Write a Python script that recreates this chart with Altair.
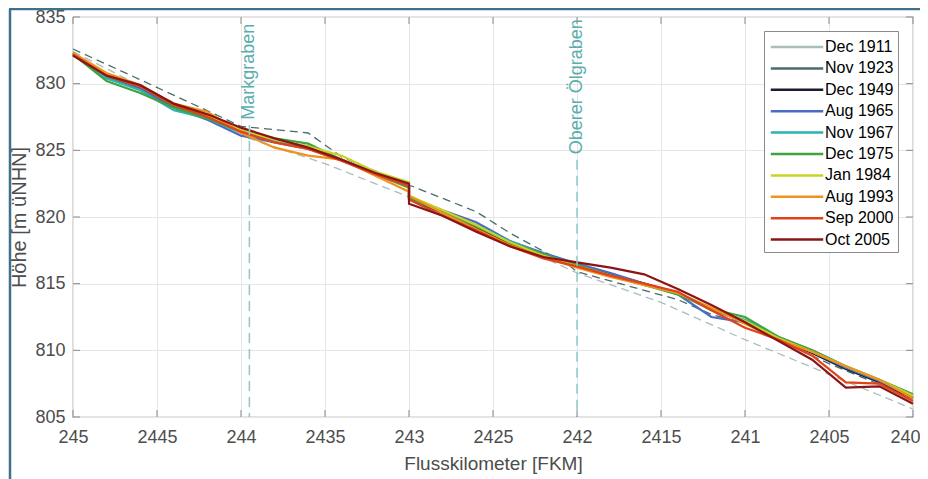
import altair as alt
import pandas as pd

# ---------------- data ----------------
series_names = ["Dec 1911", "Nov 1923", "Dec 1949", "Aug 1965", "Nov 1967",
                "Dec 1975", "Jan 1984", "Aug 1993", "Sep 2000", "Oct 2005"]
series_colors = ["#a9bdbd", "#4b6c6c", "#1c1c30", "#4a6cc4", "#2cb2b2",
                 "#3fa33f", "#c8d423", "#f0921c", "#e0421c", "#8c1414"]

# dashed historic profiles (own stations)
km_1911 = [245.0, 244.5, 244.0, 243.5, 243.0, 242.5, 242.0, 241.5, 241.0, 240.5, 240.0]
h_1911 = [832.4, 829.2, 826.1, 824.0, 821.5, 818.7, 815.8, 813.6, 810.8, 808.2, 805.6]

km_1923 = [245.0, 244.6, 244.0, 243.6, 243.4, 243.0, 242.6, 242.4, 242.05, 242.0,
           241.4, 241.2, 241.0, 240.5, 240.0]
h_1923 = [832.6, 830.3, 826.8, 826.3, 824.5, 822.4, 820.4, 818.8, 816.4, 815.9,
          813.8, 812.7, 812.0, 809.0, 806.4]

# common stations of the later surveys (step at 243.0 appears twice)
km = [245.0, 244.8, 244.6, 244.4, 244.2, 244.0, 243.8, 243.6, 243.4, 243.2, 243.0, 243.0,
      242.8, 242.6, 242.4, 242.2, 242.0, 241.8, 241.6, 241.4, 241.2, 241.0, 240.8, 240.6,
      240.4, 240.2, 240.0]
h_1949 = [832.3, 830.5, 829.7, 828.3, 827.5, 826.5, 825.8, 825.2, 824.3, 823.2, 822.3, 821.4,
          820.3, 819.2, 818.0, 817.2, 816.4, 815.7, 815.0, 814.3, 813.1, 812.1, 810.9, 809.8,
          808.6, 807.6, 806.4]
h_1965 = [832.2, 830.4, 829.6, 828.2, 827.3, 826.1, 825.6, 825.1, 824.3, 823.3, 822.3, 821.5,
          820.5, 819.6, 818.2, 817.3, 816.5, 815.8, 815.0, 814.2, 812.5, 812.1, 810.9, 809.9,
          808.7, 807.7, 806.5]
h_1967 = [832.2, 830.4, 829.5, 828.0, 827.4, 826.3, 825.7, 825.3, 824.3, 823.2, 822.3, 821.5,
          820.4, 819.4, 818.2, 817.2, 816.4, 815.6, 814.9, 814.3, 813.0, 812.3, 811.0, 810.0,
          808.8, 807.8, 806.6]
h_1975 = [832.2, 830.2, 829.3, 828.2, 827.4, 826.4, 825.9, 825.5, 824.3, 823.2, 822.2, 821.4,
          820.4, 819.3, 818.1, 817.2, 816.4, 815.6, 814.9, 814.2, 813.1, 812.5, 811.0, 810.0,
          808.8, 807.8, 806.7]
h_1984 = [832.3, 830.6, 829.8, 828.4, 827.6, 826.5, 825.8, 825.3, 824.6, 823.4, 822.6, 821.6,
          820.5, 819.4, 818.1, 817.1, 816.3, 815.6, 814.9, 814.3, 813.2, 812.2, 810.9, 809.9,
          808.8, 807.8, 806.6]
h_1993 = [832.3, 830.8, 829.9, 828.5, 827.9, 826.3, 825.2, 824.6, 824.3, 823.1, 821.9, 821.6,
          820.3, 819.1, 817.9, 817.0, 816.2, 815.5, 814.9, 814.3, 813.2, 812.0, 810.8, 809.9,
          808.8, 807.8, 806.4]
h_2000 = [832.2, 830.6, 829.8, 828.4, 827.5, 826.4, 825.6, 825.1, 824.2, 823.2, 822.3, 821.3,
          820.1, 819.0, 817.8, 816.9, 816.3, 815.6, 815.0, 814.4, 813.0, 811.7, 810.8, 809.6,
          807.6, 807.5, 806.2]
h_2005 = [832.1, 830.6, 829.9, 828.5, 827.7, 826.7, 825.9, 825.2, 824.3, 823.3, 822.5, 821.0,
          820.1, 818.9, 817.8, 817.0, 816.6, 816.2, 815.7, 814.6, 813.4, 812.1, 810.7, 809.3,
          807.2, 807.3, 806.0]

# tributary annotations
ann_km = [243.95, 242.0]
ann_label = ["Markgraben", "Oberer Ölgraben"]
ann_line_top = [826.9, 824.3]
ann_text_y = [827.3, 824.7]

x_ticks = [245.0, 244.5, 244.0, 243.5, 243.0, 242.5, 242.0, 241.5, 241.0, 240.5, 240.0]
y_ticks = [805, 810, 815, 820, 825, 830, 835]

# ---------------- tables ----------------
dashed_rows = []
for name, ks, hs in [("Dec 1911", km_1911, h_1911), ("Nov 1923", km_1923, h_1923)]:
    for i, (k, v) in enumerate(zip(ks, hs)):
        dashed_rows.append({"series": name, "km": k, "h": v, "idx": i})
dashed_df = pd.DataFrame(dashed_rows)

solid_rows = []
for name, hs in [("Dec 1949", h_1949), ("Aug 1965", h_1965), ("Nov 1967", h_1967),
                 ("Dec 1975", h_1975), ("Jan 1984", h_1984), ("Aug 1993", h_1993),
                 ("Sep 2000", h_2000), ("Oct 2005", h_2005)]:
    for i, (k, v) in enumerate(zip(km, hs)):
        solid_rows.append({"series": name, "km": k, "h": v, "idx": i})
solid_df = pd.DataFrame(solid_rows)

ann_df = pd.DataFrame({"km": ann_km, "label": ann_label, "top": ann_line_top,
                       "ty": ann_text_y, "bottom": [805] * len(ann_km)})
xt_df = pd.DataFrame({"km": x_ticks})
yt_df = pd.DataFrame({"h": y_ticks})

W, H = 840, 400
FONT = "Liberation Sans"
AX = "#4d4d4d"

x_scale = alt.Scale(domain=[240, 245], reverse=True, nice=False, zero=False)
y_scale = alt.Scale(domain=[805, 835], nice=False, zero=False)

x_axis = alt.Axis(values=x_ticks, title="Flusskilometer [FKM]", grid=True,
                  labelExpr="replace(format(datum.value, '~g'), '.', '')",
                  labelOffset={"condition": {"test": "datum.value <= 240", "value": -8},
                               "value": 0},
                  ticks=False, domain=False, labelFlush=False, labelPadding=11,
                  titlePadding=8, titleFontSize=19)
y_axis = alt.Axis(values=y_ticks, title="Höhe [m üNHN]", grid=True,
                  ticks=False, domain=False, labelFlush=False, labelPadding=8,
                  titlePadding=5, titleFontSize=20)

color_scale = alt.Scale(domain=series_names, range=series_colors)
legend = alt.Legend(title=None, orient="none", legendX=691, legendY=14,
                    symbolType="M-2.5,0L2.5,0", symbolSize=440, symbolStrokeWidth=2.5,
                    symbolDash=[1, 0], symbolOffset=17, labelOffset=16, labelFontSize=16,
                    labelColor="#000000", labelFont=FONT, rowPadding=1.4,
                    padding=4, strokeColor="#8a8a8a", fillColor="#ffffff",
                    offset=0)

base_x = alt.X("km:Q", scale=x_scale, axis=x_axis)
base_y = alt.Y("h:Q", scale=y_scale, axis=y_axis)

dashed = alt.Chart(dashed_df).mark_line(strokeWidth=1.3, strokeDash=[8, 5]).encode(
    x=base_x, y=base_y,
    color=alt.Color("series:N", scale=color_scale, legend=legend),
    order="idx:Q",
    detail="series:N",
)

solid = alt.Chart(solid_df).mark_line(strokeWidth=2.2).encode(
    x=alt.X("km:Q", scale=x_scale),
    y=alt.Y("h:Q", scale=y_scale),
    color=alt.Color("series:N", scale=color_scale, legend=legend),
    order="idx:Q",
    detail="series:N",
)

ann_rule = alt.Chart(ann_df).mark_rule(color="#8ccaca", strokeWidth=1.5,
                                       strokeDash=[10, 6]).encode(
    x=alt.X("km:Q", scale=x_scale), y=alt.Y("top:Q", scale=y_scale), y2="bottom:Q")

ann_text = alt.Chart(ann_df).mark_text(angle=270, align="left", baseline="middle",
                                       fontSize=18, font=FONT, color="#5aaeae").encode(
    x=alt.X("km:Q", scale=x_scale), y=alt.Y("ty:Q", scale=y_scale), text="label:N")

TK = "#8a8a8a"
top_ticks = alt.Chart(xt_df).mark_rule(color=TK, strokeWidth=1).encode(
    x=alt.X("km:Q", scale=x_scale), y=alt.value(0), y2=alt.value(7))
bot_ticks = alt.Chart(xt_df).mark_rule(color=TK, strokeWidth=1).encode(
    x=alt.X("km:Q", scale=x_scale), y=alt.value(H), y2=alt.value(H - 7))
left_ticks = alt.Chart(yt_df).mark_rule(color=TK, strokeWidth=1).encode(
    y=alt.Y("h:Q", scale=y_scale), x=alt.value(0), x2=alt.value(7))
right_ticks = alt.Chart(yt_df).mark_rule(color=TK, strokeWidth=1).encode(
    y=alt.Y("h:Q", scale=y_scale), x=alt.value(W), x2=alt.value(W - 7))

FR = "#40708c"
frame_left = alt.Chart(xt_df.head(1)).mark_rule(color=FR, strokeWidth=2.5, clip=False).encode(
    x=alt.value(-63), y=alt.value(-8), y2=alt.value(470))
frame_top = alt.Chart(xt_df.head(1)).mark_rule(color=FR, strokeWidth=2.5, clip=False).encode(
    x=alt.value(-64), x2=alt.value(860), y=alt.value(-8))

chart = alt.layer(
    dashed, solid, ann_rule, ann_text,
    top_ticks, bot_ticks, left_ticks, right_ticks,
    frame_left, frame_top,
).properties(
    width=W, height=H,
    autosize=alt.AutoSizeParams(type="none"),
    padding={"left": 65, "top": 9, "right": 7, "bottom": 62},
    background="#ffffff",
).configure_view(
    stroke="#8a8a8a", strokeWidth=1.2
).configure_axis(
    labelFont=FONT, titleFont=FONT, labelFontSize=18, titleFontSize=19,
    labelColor=AX, titleColor=AX, titleFontWeight="normal",
    gridColor="#e6e6e6", gridWidth=1,
)

chart.save("out.html", embed_options={"renderer": "svg", "actions": False})
